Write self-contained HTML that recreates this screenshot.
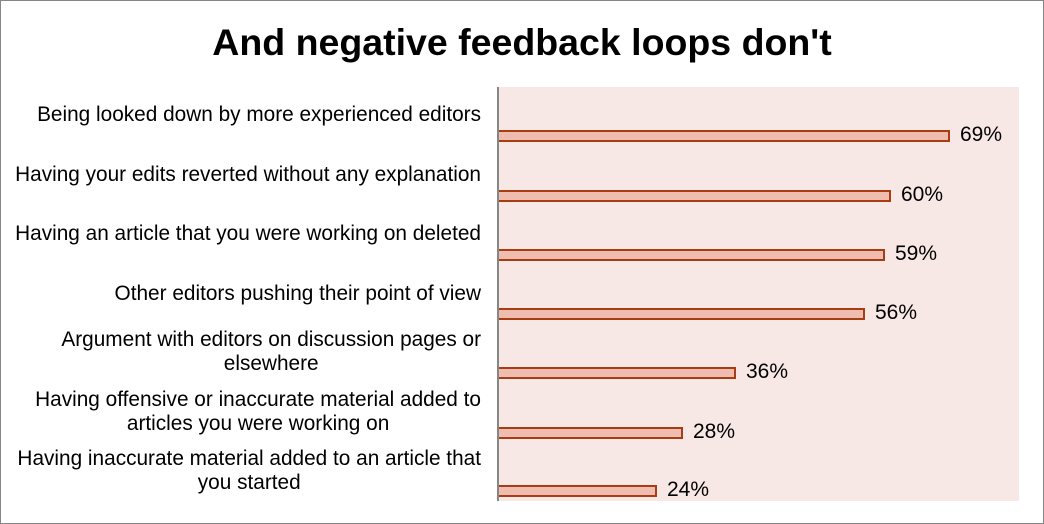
<!DOCTYPE html>
<html><head><meta charset="utf-8"><style>
body{margin:0}
#c{position:relative;width:1042px;height:522px;border:1px solid #868686;background:#fff;font-family:"Liberation Sans",sans-serif;overflow:hidden}
.t{position:absolute;left:0;width:1042px;top:19px;text-align:center;font-weight:bold;font-size:37.5px;line-height:44px}
#pa{position:absolute;left:497px;top:86px;width:521px;height:414px;background:#f8e8e5}
#ax{position:absolute;left:496px;top:86px;width:2px;height:414px;background:#868686}
.b{position:absolute;left:498px;height:8px;background:#efbdb0;border:2px solid #a83d14;border-left:none;box-sizing:content-box}
.v{position:absolute;font-size:21px;line-height:24px}
.l{position:absolute;right:562px;font-size:20.8px;line-height:24px;text-align:right;white-space:nowrap}
</style></head><body><div id="c">
<div class="t">And negative feedback loops don't</div>
<div id="pa"></div><div id="ax"></div>
<div class="b" style="top:129px;width:449px"></div><div class="v" style="left:959px;top:122px">69%</div>
<div class="b" style="top:189px;width:390px"></div><div class="v" style="left:900px;top:182px">60%</div>
<div class="b" style="top:248px;width:384px"></div><div class="v" style="left:894px;top:241px">59%</div>
<div class="b" style="top:307px;width:364px"></div><div class="v" style="left:874px;top:300px">56%</div>
<div class="b" style="top:366px;width:235px"></div><div class="v" style="left:745px;top:359px">36%</div>
<div class="b" style="top:426px;width:182px"></div><div class="v" style="left:692px;top:419px">28%</div>
<div class="b" style="top:484px;width:156px"></div><div class="v" style="left:666px;top:477px">24%</div>
<div class="l" style="top:102px">Being looked down by more experienced editors</div>
<div class="l" style="top:162px">Having your edits reverted without any explanation</div>
<div class="l" style="top:221px">Having an article that you were working on deleted</div>
<div class="l" style="top:281px">Other editors pushing their point of view</div>
<div class="l" style="top:327px;text-align:center">Argument with editors on discussion pages or<br>elsewhere</div>
<div class="l" style="top:387px;text-align:center">Having offensive or inaccurate material added to<br>articles you were working on</div>
<div class="l" style="top:446px;text-align:center">Having inaccurate material added to an article that<br>you started</div>
</div></body></html>
